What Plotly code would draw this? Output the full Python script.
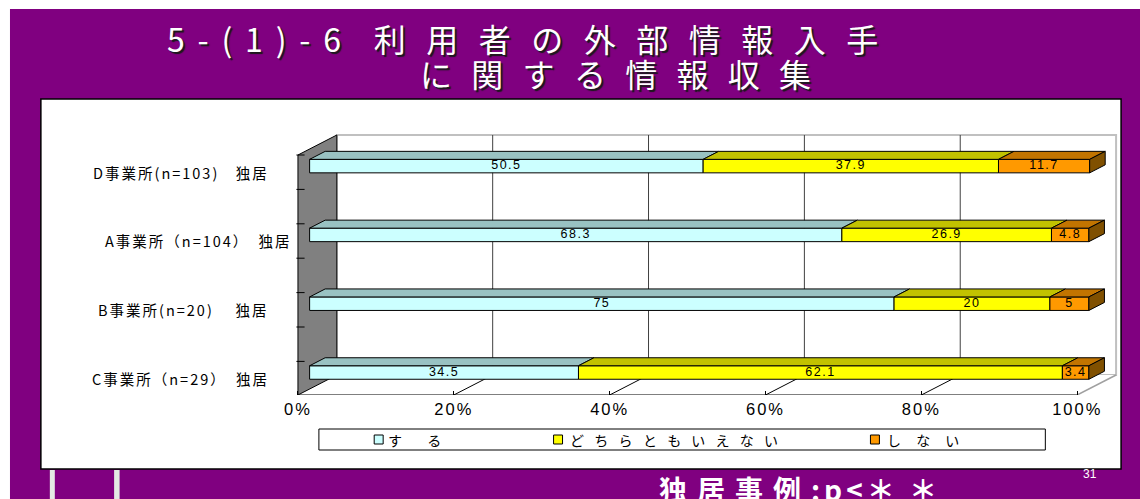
import plotly.graph_objects as go

# ---------------- data ----------------
categories = ["D事業所(n=103)　独居", "A事業所（n=104）　独居",
              "B事業所(n=20)　 独居", "C事業所（n=29）　独居"]
series_names = ["す る", "どちらともいえない", "し な い"]
suru = [50.5, 68.3, 75, 34.5]
dochira = [37.9, 26.9, 20, 62.1]
shinai = [11.7, 4.8, 5, 3.4]
x_tickvals = [0, 20, 40, 60, 80, 100]
x_ticklabels = ["0%", "20%", "40%", "60%", "80%", "100%"]

title_a = "5-(1)-6 "
title_b = "利用者の外部情報入手"
title_c = "に関する情報収集"
footer_a = "独居事例"
footer_b = ":p<＊ ＊"
page_no = "31"

# ---------------- styling / geometry ----------------
W, H = 1140, 499
PURPLE = "#800080"
front_cols = ["#CCFFFF", "#FFFF00", "#FF9900"]
top_cols = ["#99C2C2", "#C2C200", "#C27400"]
side_col = "#805000"

X0_PX, PX_PCT = 295.0, 7.82          # front plane: 0% pixel, px per percent
CAT0_PX, PX_CAT = 378.5, 68.8        # front plane: bottom category centre, px per category
DEPTH_PX = (39.0, 20.0)
FRONT_TOP_PX, FRONT_BOT_PX = 155.0, 395.0
BAR_F, BAR_B = 0.3, 0.7
BAR_THICK_PX = 13.5
XDOM_PX = (285.0, 1125.0)
YDOM_PX = (115.0, 395.0)

DX = DEPTH_PX[0] / PX_PCT
DY = DEPTH_PX[1] / PX_CAT
BT = BAR_THICK_PX / PX_CAT
V_BOT = (CAT0_PX - FRONT_BOT_PX) / PX_CAT
V_TOP = (CAT0_PX - FRONT_TOP_PX) / PX_CAT
xr = [(XDOM_PX[0] - X0_PX) / PX_PCT, (XDOM_PX[1] - X0_PX) / PX_PCT]
yr = [(CAT0_PX - YDOM_PX[1]) / PX_CAT, (CAT0_PX - YDOM_PX[0]) / PX_CAT]


def px(x):
    return x / W


def py(y):
    return 1 - y / H


n = len(categories)
vpos = [n - 1 - i for i in range(n)]
series = [suru, dochira, shinai]
XMAX = x_tickvals[-1]

fig = go.Figure()

starts = [0.0] * n
for k, vals in enumerate(series):
    s_list = [starts[i] + BAR_F * DX for i in range(n)]
    yc = [vpos[i] + BAR_F * DY for i in range(n)]
    fig.add_trace(go.Bar(
        orientation="h", y=yc, x=vals, base=s_list, width=BT,
        marker=dict(color=front_cols[k], line=dict(color="black", width=1)),
        hoverinfo="skip", showlegend=False, name=series_names[k]))
    # top faces
    tx, ty = [], []
    ddx, ddy = (BAR_B - BAR_F) * DX, (BAR_B - BAR_F) * DY
    for i in range(n):
        s = s_list[i]
        e = s + vals[i]
        yt = yc[i] + BT / 2
        tx += [s, e, e + ddx, s + ddx, s, None]
        ty += [yt, yt, yt + ddy, yt + ddy, yt, None]
    fig.add_trace(go.Scatter(x=tx, y=ty, mode="lines", fill="toself",
                             fillcolor=top_cols[k], line=dict(color="black", width=1),
                             hoverinfo="skip", showlegend=False))
    if k == len(series) - 1:
        sx, sy = [], []
        for i in range(n):
            e = s_list[i] + vals[i]
            yt = yc[i] + BT / 2
            yb = yc[i] - BT / 2
            sx += [e, e, e + ddx, e + ddx, e, None]
            sy += [yb, yt, yt + ddy, yb + ddy, yb, None]
        fig.add_trace(go.Scatter(x=sx, y=sy, mode="lines", fill="toself",
                                 fillcolor=side_col, line=dict(color="black", width=1),
                                 hoverinfo="skip", showlegend=False))
    # value labels
    fig.add_trace(go.Scatter(
        x=[s_list[i] + vals[i] / 2 for i in range(n)], y=yc, mode="text",
        text=["<span style='letter-spacing:1.5px'>%g</span>" % v for v in vals],
        textposition="middle center",
        textfont=dict(family="Liberation Sans, Arial", size=12.5, color="black"),
        hoverinfo="skip", showlegend=False))
    starts = [starts[i] + vals[i] for i in range(n)]

shapes = []
# slide background
shapes.append(dict(type="rect", xref="paper", yref="paper", x0=px(6), x1=px(W), y0=py(H), y1=py(9),
                   fillcolor=PURPLE, line=dict(width=0), layer="below"))
shapes.append(dict(type="rect", xref="paper", yref="paper", x0=px(37), x1=px(1121), y0=py(469), y1=py(99),
                   fillcolor="white", line=dict(color="black", width=1.5), layer="below"))
for xa, xb in [(46, 51), (110.5, 116)]:
    shapes.append(dict(type="rect", xref="paper", yref="paper", x0=px(xa), x1=px(xb), y0=py(H), y1=py(470),
                       fillcolor="#E4EAE4", line=dict(width=0), layer="below"))
# back wall
shapes.append(dict(type="rect", xref="x", yref="y", x0=DX, x1=XMAX + DX, y0=V_BOT + DY, y1=V_TOP + DY,
                   fillcolor="white", line=dict(color="#C0C0C0", width=2), layer="below"))
for t in x_tickvals[1:-1]:
    shapes.append(dict(type="line", xref="x", yref="y", x0=t + DX, x1=t + DX, y0=V_BOT + DY, y1=V_TOP + DY,
                       line=dict(color="#404040", width=1), layer="below"))
# floor
shapes.append(dict(type="path", xref="x", yref="y",
                   path=f"M 0,{V_BOT} L {XMAX},{V_BOT} L {XMAX + DX},{V_BOT + DY} L {DX},{V_BOT + DY} Z",
                   fillcolor="white", line=dict(width=0), layer="below"))
for t in x_tickvals[1:-1]:
    shapes.append(dict(type="line", xref="x", yref="y", x0=t, x1=t + DX, y0=V_BOT, y1=V_BOT + DY,
                       line=dict(color="black", width=1), layer="below"))
shapes.append(dict(type="line", xref="x", yref="y", x0=XMAX, x1=XMAX + DX, y0=V_BOT, y1=V_BOT + DY,
                   line=dict(color="#A0A0A0", width=1.5), layer="below"))
shapes.append(dict(type="line", xref="x", yref="y", x0=0, x1=XMAX, y0=V_BOT, y1=V_BOT,
                   line=dict(color="black", width=1.2), layer="below"))
# left wall
shapes.append(dict(type="path", xref="x", yref="y",
                   path=f"M 0,{V_BOT} L 0,{V_TOP} L {DX},{V_TOP + DY} L {DX},{V_BOT + DY} Z",
                   fillcolor="#808080", line=dict(color="black", width=1), layer="below"))
tv = V_TOP
while tv > V_BOT - 0.05:
    shapes.append(dict(type="line", xref="x", yref="y", x0=-0.2, x1=0.85, y0=tv, y1=tv,
                       line=dict(color="black", width=1), layer="below"))
    tv -= 0.5
# legend
shapes.append(dict(type="rect", xref="paper", yref="paper", x0=px(316), x1=px(1045), y0=py(450), y1=py(429),
                   fillcolor="white", line=dict(color="black", width=1), layer="below"))
leg_sq_x = [376, 556, 874]
leg_txt_x = [383, 566, 884]
leg_ls = [11, 10.3, 6]
for k in range(3):
    shapes.append(dict(type="rect", xref="paper", yref="paper",
                       x0=px(leg_sq_x[k] - 4.5), x1=px(leg_sq_x[k] + 4.5),
                       y0=py(444), y1=py(435),
                       fillcolor=front_cols[k], line=dict(color="black", width=1), layer="below"))

annots = []
title_font = dict(family="Noto Sans CJK JP", size=32, color="white", shadow="2px 2px 1px #1a1a1a")
annots.append(dict(xref="paper", yref="paper", x=px(163), y=py(37.5), xanchor="left", yanchor="middle",
                   showarrow=False, font=title_font, borderpad=0,
                   text=f"<span style='letter-spacing:12.8px'>{title_a}</span>"
                        f"<span style='letter-spacing:20.5px'>{title_b}</span>"))
annots.append(dict(xref="paper", yref="paper", x=px(416), y=py(73.5), xanchor="left", yanchor="middle",
                   showarrow=False, font=title_font, borderpad=0,
                   text=f"<span style='letter-spacing:19.3px'>{title_c}</span>"))
annots.append(dict(xref="paper", yref="paper", x=px(655), y=py(467), xanchor="left", yanchor="top",
                   showarrow=False,
                   font=dict(family="Noto Sans CJK JP", size=28, color="white", weight="bold"),
                   text=f"<span style='letter-spacing:10px'>{footer_a}</span>"
                        f"<span style='letter-spacing:4px'>{footer_b}</span>"))
annots.append(dict(xref="paper", yref="paper", x=px(1090), y=py(474), xanchor="center", yanchor="middle",
                   showarrow=False, font=dict(family="Liberation Sans", size=12, color="white"),
                   text=page_no))
label_right = [268, 291, 268, 268]
for i, c in enumerate(categories):
    annots.append(dict(xref="paper", yref="y", x=px(label_right[i]), y=vpos[i], xanchor="right",
                       yanchor="middle", showarrow=False,
                       font=dict(family="Noto Sans CJK JP", size=14.5, color="black"),
                       text=f"<span style='letter-spacing:2px'>{c}</span>"))
for k, nm in enumerate(series_names):
    annots.append(dict(xref="paper", yref="paper", x=px(leg_txt_x[k]), y=py(439.5), xanchor="left",
                       yanchor="middle", showarrow=False,
                       font=dict(family="Noto Sans CJK JP", size=14, color="black"),
                       text=f"<span style='letter-spacing:{leg_ls[k]}px'>{nm}</span>"))

fig.update_layout(
    width=W, height=H, margin=dict(l=0, r=0, t=0, b=0),
    paper_bgcolor="white", plot_bgcolor="rgba(0,0,0,0)",
    barmode="overlay", showlegend=False,
    xaxis=dict(domain=[px(XDOM_PX[0]), px(XDOM_PX[1])], range=xr, tickvals=x_tickvals,
               ticktext=[f"<span style='letter-spacing:2px'>{t}</span>" for t in x_ticklabels],
               ticks="inside", ticklen=4, tickcolor="black", showgrid=False, zeroline=False,
               showline=False, fixedrange=True, ticklabelstandoff=2,
               tickfont=dict(family="Liberation Sans, Arial", size=16.5, color="black")),
    yaxis=dict(domain=[py(YDOM_PX[1]), py(YDOM_PX[0])], range=yr, visible=False, fixedrange=True),
    shapes=shapes, annotations=annots,
)

fig.write_html("out.html", config={"displayModeBar": False},
               post_script="document.body.style.margin='0';")
